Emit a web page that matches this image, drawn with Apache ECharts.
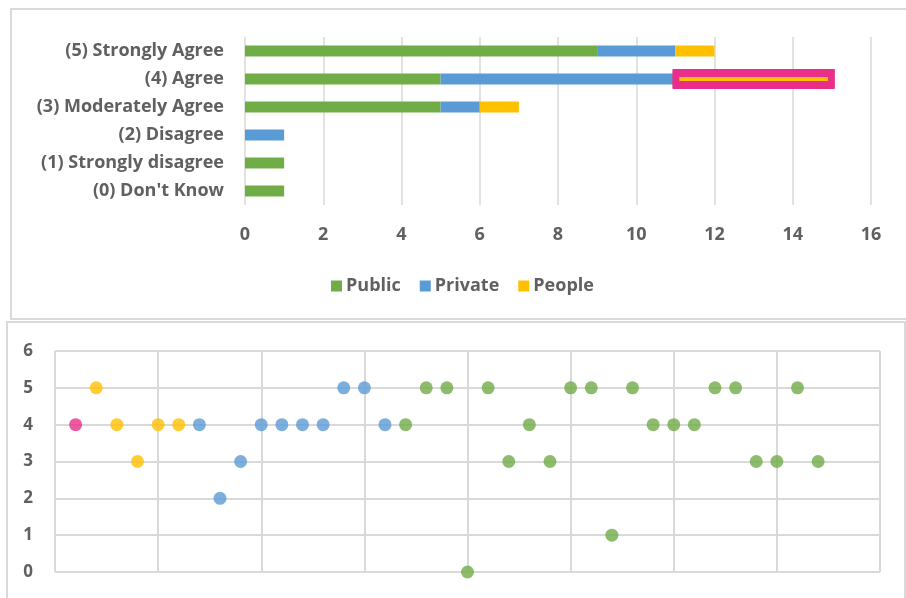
<!DOCTYPE html>
<html>
<head>
<meta charset="utf-8">
<script src="https://cdn.jsdelivr.net/npm/echarts@6/dist/echarts.min.js"></script>
<style>
  html, body { margin: 0; padding: 0; background: #ffffff; }
  #chart { width: 906px; height: 598px; }
</style>
</head>
<body>
<div id="chart"></div>
<script>
// Survey responses by rating, stacked by sector
const ratingLabels = ["(0) Don't Know", "(1) Strongly disagree", "(2) Disagree",
                      "(3) Moderately Agree", "(4) Agree", "(5) Strongly Agree"];
const publicCounts  = [1, 1, 0, 5, 5, 9];
const privateCounts = [0, 0, 1, 1, 6, 2];
const peopleCounts  = [0, 0, 0, 1, 4, 1];
const countTicks = [0, 2, 4, 6, 8, 10, 12, 14, 16];

// Individual respondents: rating given and the sector they belong to
const respondentRatings = [4, 5, 4, 3, 4, 4,
                           4, 2, 3, 4, 4, 4, 4, 5, 5, 4,
                           4, 5, 5, 0, 5, 3, 4, 3, 5, 5, 1, 5, 4, 4, 4, 5, 5, 3, 3, 5, 3];
const respondentGroups  = ['People', 'People', 'People', 'People', 'People', 'People',
                           'Private', 'Private', 'Private', 'Private', 'Private', 'Private', 'Private', 'Private', 'Private', 'Private',
                           'Public', 'Public', 'Public', 'Public', 'Public', 'Public', 'Public', 'Public', 'Public', 'Public',
                           'Public', 'Public', 'Public', 'Public', 'Public', 'Public', 'Public', 'Public', 'Public', 'Public', 'Public'];
const highlightedRespondent = 0;   // selected respondent, shown in pink
const ratingTicks = [0, 1, 2, 3, 4, 5, 6];

const COLORS = { Public: '#70AD47', Private: '#5B9BD5', People: '#FFC000' };
const PINK = '#EA2F8A';
const TEXT = '#606060';
const GRIDLINE = '#d9d9d9';
const FONT = 'Open Sans';
const LABEL_SIZE = 18;

// Which stacked segment belongs to the selected respondent
const seriesOrder = ['Public', 'Private', 'People'];
const countsByGroup = { Public: publicCounts, Private: privateCounts, People: peopleCounts };
const highlightedGroup = respondentGroups[highlightedRespondent];
const highlightedRating = respondentRatings[highlightedRespondent];
const highlightedCategory = ratingLabels.findIndex(l => l.startsWith('(' + highlightedRating + ')'));
let segStart = 0;
for (const g of seriesOrder) {
  if (g === highlightedGroup) break;
  segStart += countsByGroup[g][highlightedCategory];
}
const segEnd = segStart + countsByGroup[highlightedGroup][highlightedCategory];

const chart = echarts.init(document.getElementById('chart'), null, { renderer: 'canvas' });

function barSeries(name) {
  return {
    name: name,
    type: 'bar',
    stack: 'total',
    xAxisIndex: 0,
    yAxisIndex: 0,
    barWidth: 11,
    itemStyle: { color: COLORS[name] },
    data: countsByGroup[name]
  };
}

const scatterData = respondentRatings.map((r, i) => ({
  value: [i + 1, r],
  itemStyle: { color: i === highlightedRespondent ? PINK : COLORS[respondentGroups[i]] }
}));

chart.setOption({
  animation: false,
  textStyle: { fontFamily: FONT },
  graphic: [
    { type: 'rect', shape: { x: 11, y: 9, width: 910, height: 310 },
      style: { fill: 'none', stroke: '#d9d9d9', lineWidth: 2 }, z: -1 },
    { type: 'rect', shape: { x: 7, y: 322, width: 898, height: 300 },
      style: { fill: 'none', stroke: '#d9d9d9', lineWidth: 2 }, z: -1 }
  ],
  legend: {
    data: seriesOrder,
    left: 326,
    top: 272,
    itemWidth: 11,
    itemHeight: 11,
    itemGap: 19,
    icon: 'rect',
    textStyle: { color: TEXT, fontSize: LABEL_SIZE, fontWeight: 'bold', fontFamily: FONT, padding: [0, 0, 0, -1] }
  },
  grid: [
    { left: 245, top: 37, width: 626, height: 168 },
    { left: 55, top: 351, width: 825, height: 221 }
  ],
  xAxis: [
    {
      gridIndex: 0, type: 'value', min: countTicks[0], max: countTicks[countTicks.length - 1], interval: 2,
      axisLine: { show: false }, axisTick: { show: false },
      axisLabel: { color: TEXT, fontSize: LABEL_SIZE, fontWeight: 'bold', margin: 21 },
      splitLine: { lineStyle: { color: GRIDLINE, width: 1.5 } }
    },
    {
      gridIndex: 1, type: 'value', min: 0, max: 40, interval: 5,
      axisLine: { show: false }, axisTick: { show: false },
      axisLabel: { show: false },
      splitLine: { lineStyle: { color: GRIDLINE, width: 2 } }
    }
  ],
  yAxis: [
    {
      gridIndex: 0, type: 'category', data: ratingLabels,
      axisLine: { show: false }, axisTick: { show: false },
      axisLabel: { color: TEXT, fontSize: LABEL_SIZE, fontWeight: 'bold', margin: 21 },
      splitLine: { show: false }
    },
    {
      gridIndex: 1, type: 'value', min: ratingTicks[0], max: ratingTicks[ratingTicks.length - 1], interval: 1,
      axisLine: { show: false }, axisTick: { show: false },
      axisLabel: { color: TEXT, fontSize: 17, fontWeight: 'bold', margin: 22 },
      splitLine: { lineStyle: { color: GRIDLINE, width: 2 } }
    }
  ],
  series: [
    barSeries('Public'),
    barSeries('Private'),
    barSeries('People'),
    {
      // selection outline around the selected respondent's segment
      name: 'Selection',
      type: 'custom',
      xAxisIndex: 0,
      yAxisIndex: 0,
      z: 5,
      data: [[segStart, segEnd, highlightedCategory]],
      renderItem: function (params, api) {
        const p0 = api.coord([api.value(0), api.value(2)]);
        const p1 = api.coord([api.value(1), api.value(2)]);
        const w = p1[0] - p0[0];
        return {
          type: 'group',
          children: [
            { type: 'rect', shape: { x: p0[0] - 3, y: p0[1] - 10, width: w + 6, height: 20, r: 1 },
              style: { fill: PINK } },
            { type: 'rect', shape: { x: p0[0] + 4, y: p0[1] - 2, width: w - 8, height: 4 },
              style: { fill: COLORS[highlightedGroup] } }
          ]
        };
      }
    },
    {
      name: 'Respondents',
      type: 'scatter',
      xAxisIndex: 1,
      yAxisIndex: 1,
      symbolSize: 13,
      data: scatterData
    }
  ]
});
</script>
</body>
</html>
